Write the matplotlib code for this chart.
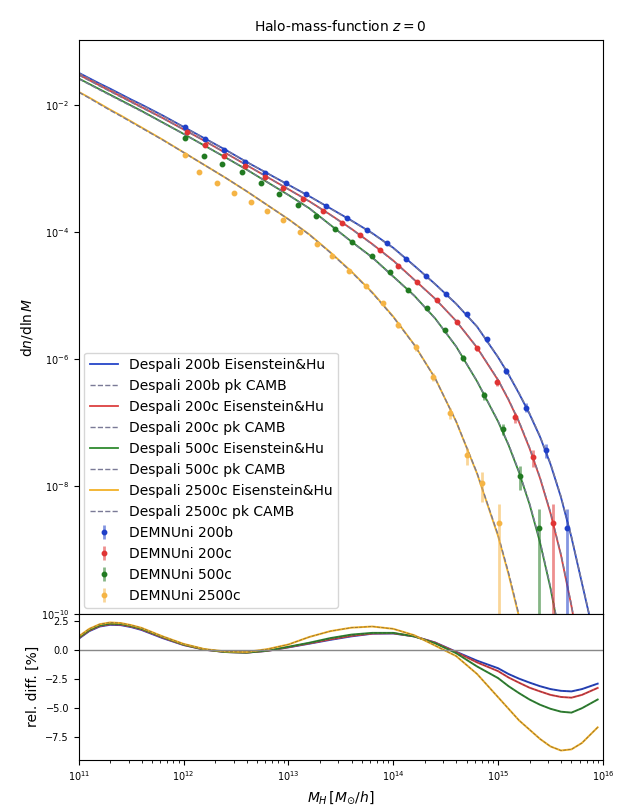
import numpy as np
import matplotlib

matplotlib.use("Agg")
import matplotlib.pyplot as plt
from matplotlib.ticker import LogLocator, NullLocator, NullFormatter

# model grid, log10(M_H / [M_sun/h])
logm = [11.0, 11.1, 11.2, 11.3, 11.4, 11.5, 11.6, 11.8, 12.0, 12.2, 12.4, 12.6, 12.8,
        13.0, 13.2, 13.4, 13.6, 13.8, 14.0, 14.2, 14.4, 14.6, 14.8, 15.0, 15.1, 15.2,
        15.3, 15.4, 15.5, 15.6, 15.7, 15.8, 15.95]
nan = np.nan

# log10 dn/dlnM, Despali + Eisenstein&Hu
eh_200b = [-1.50, -1.585, -1.67, -1.75, -1.835, -1.92, -2.00, -2.17, -2.35, -2.53, -2.71,
           -2.90, -3.08, -3.26, -3.44, -3.63, -3.82, -4.02, -4.25, -4.53, -4.82, -5.13,
           -5.49, -5.97, -6.24, -6.54, -6.86, -7.22, -7.65, -8.17, -8.80, -9.52, -10.6]
eh_200c = [-1.53, -1.615, -1.70, -1.785, -1.87, -1.955, -2.04, -2.21, -2.39, -2.57, -2.76,
           -2.95, -3.14, -3.33, -3.52, -3.73, -3.95, -4.19, -4.45, -4.75, -5.05, -5.40,
           -5.82, -6.33, -6.64, -6.99, -7.40, -7.87, -8.42, -9.08, -9.88, -10.8, nan]
eh_500c = [-1.59, -1.675, -1.76, -1.845, -1.93, -2.015, -2.10, -2.28, -2.46, -2.645, -2.83,
           -3.02, -3.22, -3.42, -3.63, -3.89, -4.15, -4.40, -4.70, -5.00, -5.36, -5.80,
           -6.35, -6.98, -7.35, -7.78, -8.28, -8.88, -9.60, -10.45, nan, nan, nan]
eh_2500c = [-1.80, -1.89, -1.985, -2.08, -2.17, -2.265, -2.36, -2.55, -2.75, -2.95, -3.15,
            -3.36, -3.58, -3.80, -4.04, -4.32, -4.62, -4.95, -5.33, -5.77, -6.30, -6.98,
            -7.80, -8.78, -9.38, -10.05, -10.8, nan, nan, nan, nan, nan, nan]

# relative difference EH vs CAMB [%]
rel_200b = [0.95, 1.6, 2.0, 2.15, 2.12, 1.95, 1.7, 1.0, 0.4, 0.0, -0.2, -0.25, -0.1, 0.2,
            0.52, 0.85, 1.15, 1.38, 1.4, 1.15, 0.62, -0.18, -0.95, -1.6, -2.1, -2.5, -2.84,
            -3.15, -3.4, -3.55, -3.6, -3.4, -2.93]
rel_200c = [1.0, 1.65, 2.05, 2.2, 2.17, 2.0, 1.75, 1.05, 0.42, 0.0, -0.2, -0.25, -0.1, 0.22,
            0.55, 0.9, 1.2, 1.4, 1.42, 1.15, 0.6, -0.22, -1.1, -1.85, -2.4, -2.85, -3.28,
            -3.6, -3.9, -4.08, -4.14, -3.9, -3.3]
rel_500c = [1.05, 1.7, 2.1, 2.25, 2.22, 2.05, 1.8, 1.1, 0.45, 0.02, -0.2, -0.25, -0.08, 0.25,
            0.6, 1.0, 1.3, 1.45, 1.45, 1.15, 0.55, -0.3, -1.45, -2.45, -3.15, -3.75, -4.3,
            -4.75, -5.1, -5.35, -5.43, -5.05, -4.3]
rel_2500c = [1.15, 1.8, 2.2, 2.35, 2.3, 2.12, 1.88, 1.15, 0.5, 0.05, -0.15, -0.2, 0.05, 0.45,
             1.1, 1.6, 1.9, 2.0, 1.8, 1.25, 0.35, -0.55, -2.1, -4.1, -5.1, -6.1, -6.9,
             -7.7, -8.35, -8.7, -8.6, -8.05, -6.7]

# DEMNUni measurements: log10 M, log10 dn/dlnM, relative error
sim_200b_x = [12.01, 12.20, 12.39, 12.59, 12.78, 12.98, 13.17, 13.36, 13.56, 13.75, 13.94,
              14.12, 14.31, 14.50, 14.70, 14.89, 15.08, 15.27, 15.46, 15.66]
sim_200b_y = [-2.35, -2.54, -2.71, -2.90, -3.07, -3.23, -3.40, -3.59, -3.78, -3.97, -4.17,
              -4.43, -4.69, -4.98, -5.29, -5.69, -6.19, -6.76, -7.43, -8.66]
sim_200b_e = [0.01, 0.01, 0.01, 0.01, 0.01, 0.01, 0.01, 0.02, 0.02, 0.02, 0.03, 0.03, 0.04,
              0.05, 0.06, 0.08, 0.11, 0.16, 0.25, 1.0]
sim_200c_x = [12.03, 12.20, 12.39, 12.59, 12.78, 12.95, 13.14, 13.33, 13.51, 13.68, 13.87,
              14.05, 14.23, 14.42, 14.61, 14.80, 14.99, 15.16, 15.33, 15.52]
sim_200c_y = [-2.43, -2.63, -2.80, -2.96, -3.13, -3.31, -3.48, -3.67, -3.86, -4.05, -4.28,
              -4.54, -4.79, -5.07, -5.42, -5.83, -6.36, -6.91, -7.54, -8.57]
sim_200c_e = [0.01, 0.01, 0.01, 0.01, 0.01, 0.01, 0.01, 0.02, 0.02, 0.02, 0.03, 0.03, 0.04,
              0.05, 0.06, 0.08, 0.12, 0.18, 0.3, 1.0]
sim_500c_x = [12.01, 12.19, 12.37, 12.56, 12.74, 12.91, 13.09, 13.26, 13.44, 13.61, 13.80,
              13.97, 14.14, 14.32, 14.49, 14.67, 14.87, 15.05, 15.21, 15.39]
sim_500c_y = [-2.52, -2.80, -2.94, -3.06, -3.23, -3.40, -3.57, -3.75, -3.96, -4.16, -4.38,
              -4.63, -4.91, -5.20, -5.54, -5.98, -6.57, -7.10, -7.83, -8.65]
sim_500c_e = [0.01, 0.01, 0.01, 0.01, 0.01, 0.01, 0.02, 0.02, 0.02, 0.03, 0.03, 0.04, 0.05,
              0.06, 0.08, 0.1, 0.14, 0.2, 0.4, 1.0]
sim_2500c_x = [12.01, 12.15, 12.32, 12.48, 12.64, 12.80, 12.95, 13.11, 13.27, 13.42, 13.58,
               13.74, 13.90, 14.05, 14.22, 14.38, 14.54, 14.70, 14.85, 15.01]
sim_2500c_y = [-2.79, -3.06, -3.23, -3.39, -3.53, -3.67, -3.81, -4.00, -4.19, -4.38, -4.61,
               -4.85, -5.12, -5.46, -5.81, -6.28, -6.85, -7.51, -7.95, -8.58]
sim_2500c_e = [0.01, 0.01, 0.01, 0.01, 0.02, 0.02, 0.02, 0.03, 0.03, 0.04, 0.05, 0.06, 0.08,
               0.1, 0.12, 0.15, 0.2, 0.3, 0.5, 1.0]

defs = ["200b", "200c", "500c", "2500c"]
line_cols = ["#2545c8", "#dc4040", "#2f8a2f", "#f2b126"]
pt_cols = ["#1f3fc8", "#e03434", "#217a21", "#f5b445"]
camb_col = "#7a7a96"

eh = [eh_200b, eh_200c, eh_500c, eh_2500c]
rel = [rel_200b, rel_200c, rel_500c, rel_2500c]
sims = [(sim_200b_x, sim_200b_y, sim_200b_e), (sim_200c_x, sim_200c_y, sim_200c_e),
        (sim_500c_x, sim_500c_y, sim_500c_e), (sim_2500c_x, sim_2500c_y, sim_2500c_e)]

m = 10 ** np.array(logm)

fig = plt.figure(figsize=(6.3, 8.1), dpi=100)
gs = fig.add_gridspec(2, 1, height_ratios=[574, 146], hspace=0,
                      left=0.125, right=0.957, top=0.951, bottom=0.062)
ax = fig.add_subplot(gs[0])
axr = fig.add_subplot(gs[1], sharex=ax)

for d, c, y_eh, r in zip(defs, line_cols, eh, rel):
    y_eh = 10 ** np.array(y_eh)
    # CAMB curve from the relative difference shown in the lower panel
    y_camb = y_eh / (1 + np.array(r) / 100)
    ax.plot(m, y_eh, color=c, lw=1.3, label=f"Despali {d} Eisenstein&Hu")
    ax.plot(m, y_camb, color=camb_col, lw=1.0, ls="--", label=f"Despali {d} pk CAMB")

for d, c, (sx, sy, se) in zip(defs, pt_cols, sims):
    x = 10 ** np.array(sx)
    y = 10 ** np.array(sy)
    e = np.array(se)
    lo = y * np.minimum(e, 0.9999)
    hi = y * e
    eb = ax.errorbar(x, y, yerr=[lo, hi], fmt="o", ms=3.2, color=c, elinewidth=2.0,
                     capsize=0, label=f"DEMNUni {d}")
    eb[2][0].set_alpha(0.55)

ax.set_xscale("log")
ax.set_yscale("log")
ax.set_xlim(1e11, 1e16)
ax.set_ylim(1e-10, 10 ** -0.98)
ax.set_yticks([1e-10, 1e-8, 1e-6, 1e-4, 1e-2])
ax.yaxis.set_minor_locator(NullLocator())
ax.tick_params(labelbottom=False, labelsize=7)
ax.set_ylabel(r"$\mathrm{d}n/\mathrm{d}\ln M$", fontsize=10)
ax.set_title(r"Halo-mass-function $z = 0$", fontsize=10)
ax.legend(loc="lower left", fontsize=10, labelspacing=0.5, borderaxespad=0.4)

for c, r in zip(line_cols, rel):
    axr.plot(m, r, color=c, lw=1.4)
    axr.plot(m, r, color="#303040", lw=0.6, ls="--", alpha=0.5)
axr.axhline(0, color="#888888", lw=1.0)
axr.set_ylim(-9.5, 3.1)
axr.set_yticks([-7.5, -5.0, -2.5, 0.0, 2.5])
axr.xaxis.set_major_locator(LogLocator(base=10, numticks=10))
axr.xaxis.set_minor_locator(LogLocator(base=10, subs=np.arange(2, 10), numticks=20))
axr.xaxis.set_minor_formatter(NullFormatter())
axr.tick_params(labelsize=7)
axr.set_ylabel("rel. diff. [%]", fontsize=10)
axr.set_xlabel(r"$M_H\,[M_{\odot}/h]$", fontsize=10)

fig.savefig("out.png", dpi=100)
